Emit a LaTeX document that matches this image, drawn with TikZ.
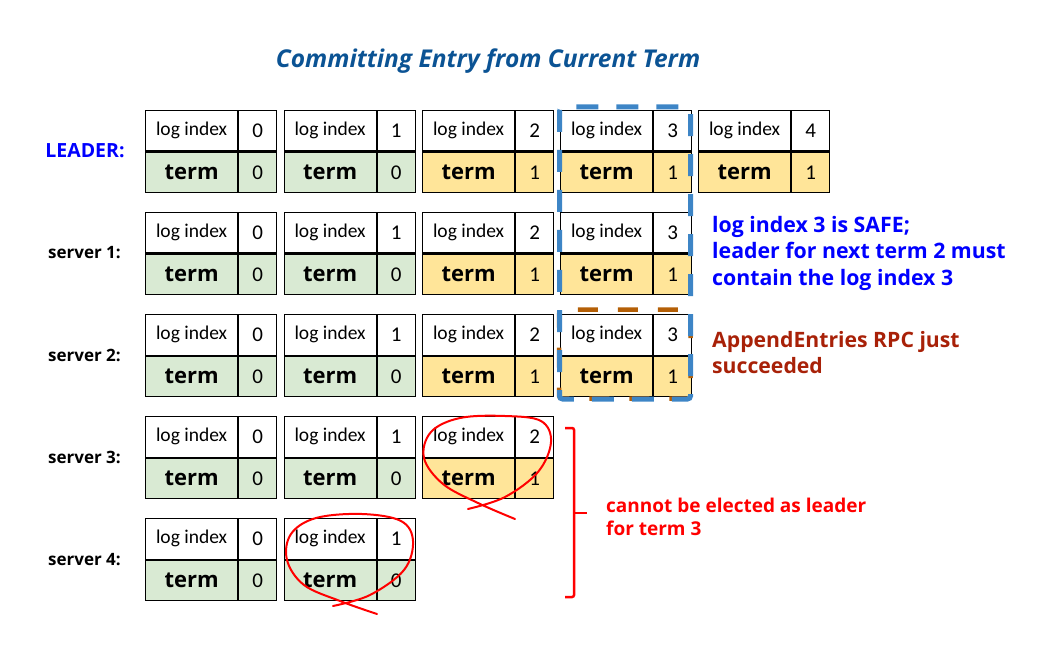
\documentclass[tikz,border=0pt]{standalone}
\usepackage{fontspec}
\setmainfont{Open Sans}
\newfontfamily\calfont{Carlito}
\usetikzlibrary{calc}
\definecolor{cgreen}{HTML}{D9EAD3}
\definecolor{cyellow}{HTML}{FFE599}
\definecolor{ctitle}{HTML}{0B5394}
\definecolor{cbluebox}{HTML}{3D85C6}
\definecolor{corange}{HTML}{B45F06}
\definecolor{cdarkred}{rgb}{0.66,0.13,0.03}
\tikzset{
  cellbase/.style={draw, line width=1.2pt, inner sep=0pt, minimum height=40.5pt, anchor=north west},
  idxcell/.style={cellbase, fill=white, minimum width=92pt, font=\calfont\fontsize{19.5}{19.5}\selectfont},
  numcell/.style={cellbase, minimum width=38pt, font=\calfont\fontsize{21}{21}\selectfont},
  termcell/.style={cellbase, minimum width=92pt, font=\bfseries\fontsize{22}{22}\selectfont},
  rowlabel/.style={anchor=base, font=\bfseries\fontsize{17}{17}\selectfont},
  loopline/.style={red, line width=2pt, line cap=round, line join=round},
}
\newcommand\entrybox[6]{%
  \node[idxcell] (#1i) at (#2,#3) {log index};
  \node[numcell, fill=white] (#1n) at (#1i.north east) {#4};
  \node[termcell, fill=#6] (#1t) at (#1i.south west) {term};
  \node[numcell, fill=#6] (#1v) at (#1t.north east) {#5};
}
\begin{document}
\begin{tikzpicture}[x=1pt,y=-1pt]
\useasboundingbox (0,0) rectangle (1050,647);
% title
\node[anchor=base, font=\bfseries\itshape\fontsize{24.5}{24.5}\selectfont, text=ctitle] (title) at (488,68) {Committing Entry from Current Term};
% row labels
\node[rowlabel, text=blue, font=\bfseries\fontsize{19.5}{19.5}\selectfont] (lbl0) at (85,158) {LEADER:};
\node[rowlabel] (lbl1) at (84.5,259) {server 1:};
\node[rowlabel] (lbl2) at (84.5,361) {server 2:};
\node[rowlabel] (lbl3) at (84.5,463) {server 3:};
\node[rowlabel] (lbl4) at (84.5,565) {server 4:};
% leader
\entrybox{La}{145}{110}{0}{0}{cgreen}
\entrybox{Lb}{283.5}{110}{1}{0}{cgreen}
\entrybox{Lc}{422}{110}{2}{1}{cyellow}
\entrybox{Ld}{560}{110}{3}{1}{cyellow}
\entrybox{Le}{698}{110}{4}{1}{cyellow}
% server 1
\entrybox{Aa}{145}{212}{0}{0}{cgreen}
\entrybox{Ab}{283.5}{212}{1}{0}{cgreen}
\entrybox{Ac}{422}{212}{2}{1}{cyellow}
\entrybox{Ad}{560}{212}{3}{1}{cyellow}
% server 2
\entrybox{Ba}{145}{314}{0}{0}{cgreen}
\entrybox{Bb}{283.5}{314}{1}{0}{cgreen}
\entrybox{Bc}{422}{314}{2}{1}{cyellow}
\entrybox{Bd}{560}{314}{3}{1}{cyellow}
% server 3
\entrybox{Ca}{145}{416}{0}{0}{cgreen}
\entrybox{Cb}{283.5}{416}{1}{0}{cgreen}
\entrybox{Cc}{422}{416}{2}{1}{cyellow}
% server 4
\entrybox{Da}{145}{518}{0}{0}{cgreen}
\entrybox{Db}{283.5}{518}{1}{0}{cgreen}
% highlight boxes
\draw[corange, line width=4.5pt, dash pattern=on 20pt off 20pt, dash phase=5pt, rounded corners=3pt] (559,309.5) rectangle (690.5,398.5);
\draw[cbluebox, line width=5pt, dash pattern=on 22pt off 18pt, rounded corners=3pt] (559.5,107) rectangle (690.5,399);
% annotations (base = baseline of last line)
\node[anchor=base west, align=left, text=blue, font=\bfseries\fontsize{21.3}{26.5}\selectfont, inner sep=0pt] (safe) at (712,285) {log index 3 is SAFE;\\leader for next term 2 must\\contain the log index 3};
\node[anchor=base west, align=left, text=cdarkred, font=\bfseries\fontsize{21.2}{26}\selectfont, inner sep=0pt] (rpc) at (712,373) {AppendEntries RPC just\\succeeded};
\node[anchor=base west, align=left, text=red, font=\bfseries\fontsize{19}{23.5}\selectfont, inner sep=0pt] (elect) at (606,535.5) {cannot be elected as leader\\for term 3};
% bracket
\coordinate (brtop) at (574,428);
\coordinate (brbot) at (574,597);
\coordinate (brmid) at (574,513);
\draw[red, line width=2.5pt, rounded corners=2pt] ($(brtop)+(-9,0)$) -- (brtop) -- (brbot) -- ($(brbot)+(-9,0)$);
\draw[red, line width=2.5pt] (brmid) -- ++(13,0);
% hand-drawn loops
\draw[loopline] plot[smooth, tension=0.6] coordinates {(468,509) (505,497) (538,472) (551,442) (541,421) (505,416) (460,418) (431,432) (424,458) (443,484) (478,503) (515,519)};
\draw[loopline] plot[smooth, tension=0.6] coordinates {(333,606) (370,595) (404,570) (413,541) (401,521) (362,514) (316,518) (291,534) (287,560) (304,585) (340,601) (377,614)};
\end{tikzpicture}
\end{document}
